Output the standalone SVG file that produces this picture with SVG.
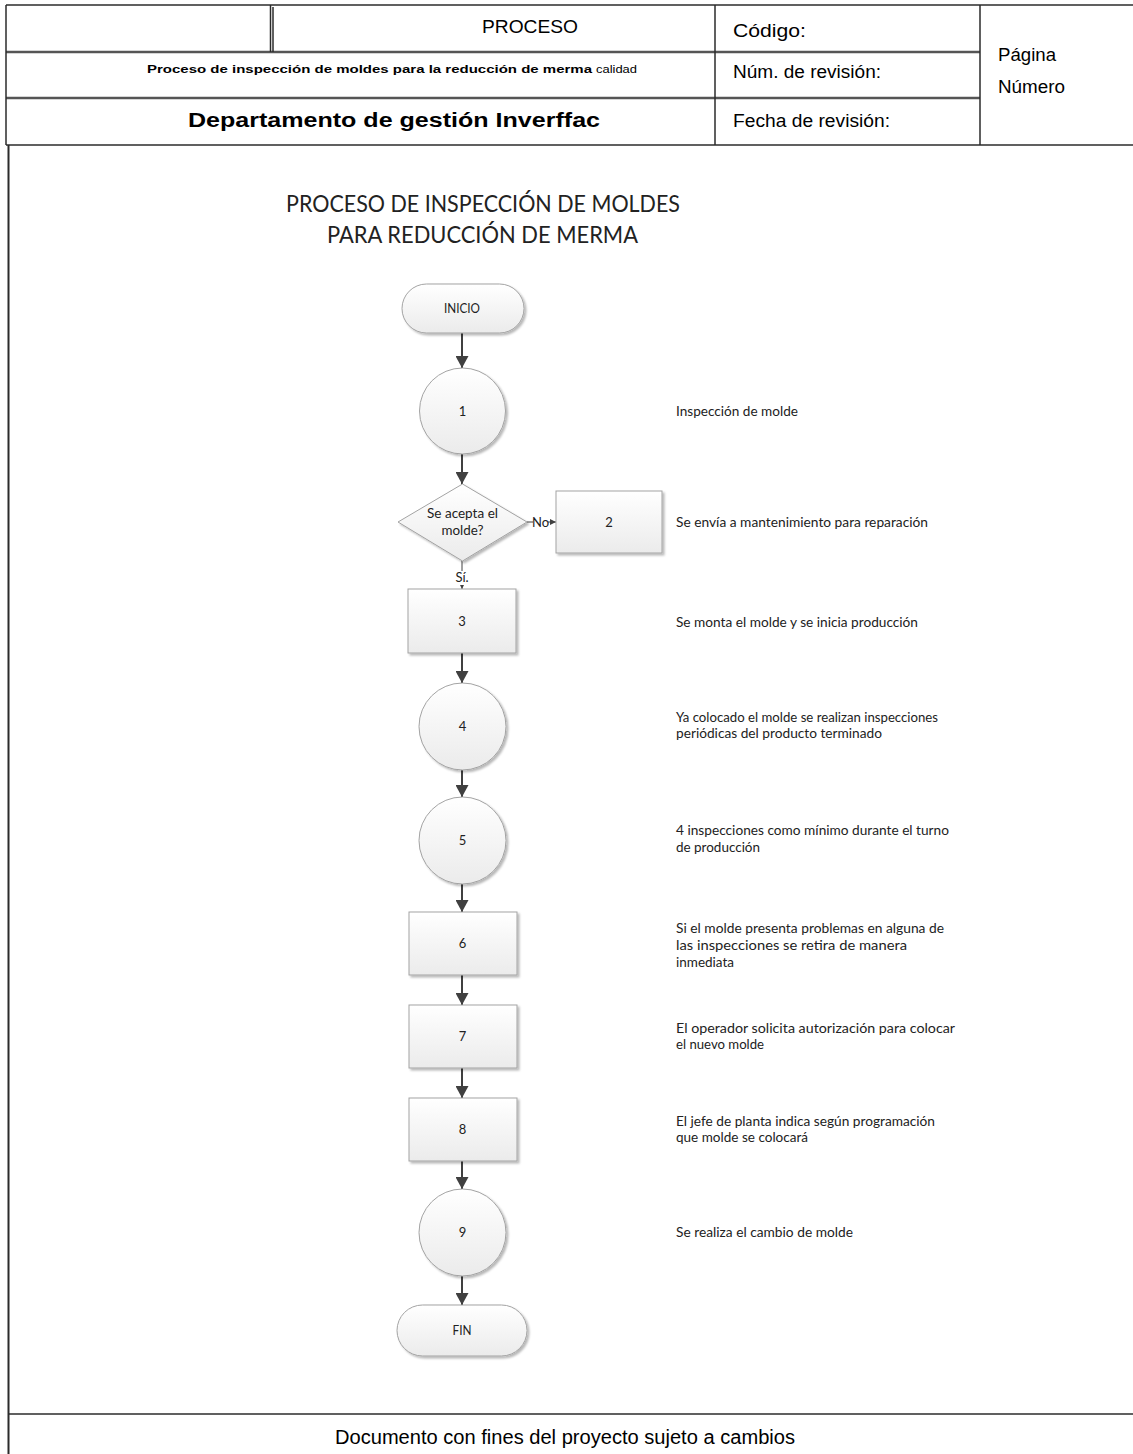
<svg xmlns="http://www.w3.org/2000/svg" width="1133" height="1454" viewBox="0 0 1133 1454">
  <defs>
    <linearGradient id="nodeFill" x1="0" y1="0" x2="0" y2="1">
      <stop offset="0" stop-color="#ffffff"/>
      <stop offset="1" stop-color="#ebebeb"/>
    </linearGradient>
    <filter id="shadow" x="-20%" y="-20%" width="140%" height="140%">
      <feDropShadow dx="2" dy="2" stdDeviation="1.2" flood-color="#000" flood-opacity="0.28"/>
    </filter>
    <marker id="arrow" markerUnits="userSpaceOnUse" markerWidth="13" markerHeight="13" refX="12" refY="6.5" orient="auto">
      <path d="M0,0 L12,6.5 L0,13 z" fill="#404040"/>
    </marker>
    <marker id="arrowSmall" markerUnits="userSpaceOnUse" markerWidth="6" markerHeight="6" refX="6" refY="3" orient="auto">
      <path d="M0,0 L6,3 L0,6 z" fill="#404040"/>
    </marker>
    <style>
      .grid { stroke: #2b2b2b; stroke-width: 1.5; fill: none; }
      .gridDbl { stroke: #555; stroke-width: 2.5; fill: none; }
      .hdr { font-family: "Liberation Sans", Arial, sans-serif; fill: #000; }
      .node { fill: url(#nodeFill); stroke: #a3a3a3; stroke-width: 1; filter: url(#shadow); }
      .lbl { font-family: Lato, "Open Sans", sans-serif; font-size: 13px; fill: #222; text-anchor: middle; }
      .desc { font-family: Lato, "Open Sans", sans-serif; font-size: 13px; fill: #222; }
      .title { font-family: Lato, "Open Sans", sans-serif; font-size: 24px; fill: #222; }
      .conn { stroke: #404040; stroke-width: 2; fill: none; }
      .connThin { stroke: #404040; stroke-width: 1; fill: none; }
    </style>
  </defs>

  <rect width="1133" height="1454" fill="#ffffff"/>

  <!-- header table -->
  <g id="header">
    <line class="grid" x1="6" y1="5" x2="1133" y2="5"/>
    <line class="gridDbl" x1="6" y1="52" x2="980" y2="52"/>
    <line class="gridDbl" x1="6" y1="98" x2="980" y2="98"/>
    <line class="grid" x1="6" y1="145" x2="1133" y2="145"/>
    <line class="grid" x1="6" y1="5" x2="6" y2="145"/>
    <line class="grid" x1="270.5" y1="5" x2="270.5" y2="52"/>
    <line class="grid" x1="273" y1="7" x2="273" y2="52"/>
    <line class="grid" x1="715" y1="5" x2="715" y2="145"/>
    <line class="grid" x1="980" y1="5" x2="980" y2="145"/>

    <text class="hdr" x="482" y="33.3" font-size="18" textLength="96" lengthAdjust="spacingAndGlyphs">PROCESO</text>
    <text class="hdr" x="147" y="73.3" font-size="11.5" font-weight="bold" textLength="445" lengthAdjust="spacingAndGlyphs">Proceso de inspección de moldes para la reducción de merma</text>
    <text class="hdr" x="596" y="73.3" font-size="11.5" textLength="41" lengthAdjust="spacingAndGlyphs">calidad</text>
    <text class="hdr" x="188" y="126.5" font-size="20" font-weight="bold" textLength="412" lengthAdjust="spacingAndGlyphs">Departamento de gestión Inverffac</text>

    <text class="hdr" x="733" y="37.3" font-size="17.5" textLength="73" lengthAdjust="spacingAndGlyphs">Código:</text>
    <text class="hdr" x="733" y="78.3" font-size="17.5" textLength="148" lengthAdjust="spacingAndGlyphs">Núm. de revisión:</text>
    <text class="hdr" x="733" y="127.3" font-size="17.5" textLength="157" lengthAdjust="spacingAndGlyphs">Fecha de revisión:</text>
    <text class="hdr" x="998" y="60.7" font-size="17.5" textLength="58" lengthAdjust="spacingAndGlyphs">Página</text>
    <text class="hdr" x="998" y="93.3" font-size="17.5" textLength="67" lengthAdjust="spacingAndGlyphs">Número</text>
  </g>

  <!-- page frame and footer -->
  <g id="frame">
    <line x1="8.5" y1="145" x2="8.5" y2="1454" stroke="#2b2b2b" stroke-width="2"/>
    <line x1="8" y1="1414" x2="1133" y2="1414" stroke="#2b2b2b" stroke-width="1.5"/>
    <text class="hdr" x="335" y="1444" font-size="19.5" textLength="460" lengthAdjust="spacingAndGlyphs">Documento con fines del proyecto sujeto a cambios</text>
  </g>

  <!-- chart title -->
  <g id="title">
    <text class="title" x="286" y="212" textLength="394" lengthAdjust="spacingAndGlyphs">PROCESO DE INSPECCIÓN DE MOLDES</text>
    <text class="title" x="327" y="243" textLength="311" lengthAdjust="spacingAndGlyphs">PARA REDUCCIÓN DE MERMA</text>
  </g>

  <!-- connectors -->
  <g id="connectors">
    <line class="conn" x1="462" y1="333" x2="462" y2="368" marker-end="url(#arrow)"/>
    <line class="conn" x1="462" y1="454" x2="462" y2="484" marker-end="url(#arrow)"/>
    <line class="connThin" x1="527" y1="522" x2="556" y2="522" marker-end="url(#arrowSmall)"/>
    <line class="connThin" x1="462" y1="561" x2="462" y2="589" marker-end="url(#arrowSmall)"/>
    <line class="conn" x1="462" y1="653" x2="462" y2="683" marker-end="url(#arrow)"/>
    <line class="conn" x1="462" y1="770" x2="462" y2="797" marker-end="url(#arrow)"/>
    <line class="conn" x1="462" y1="884" x2="462" y2="912" marker-end="url(#arrow)"/>
    <line class="conn" x1="462" y1="975" x2="462" y2="1005" marker-end="url(#arrow)"/>
    <line class="conn" x1="462" y1="1068" x2="462" y2="1098" marker-end="url(#arrow)"/>
    <line class="conn" x1="462" y1="1161" x2="462" y2="1189" marker-end="url(#arrow)"/>
    <line class="conn" x1="462" y1="1276" x2="462" y2="1305" marker-end="url(#arrow)"/>
    <!-- branch labels -->
    <rect x="533" y="515" width="15" height="14" fill="#ffffff"/>
    <text class="lbl" x="540.5" y="526.5" font-size="12">No</text>
    <rect x="453" y="571" width="18" height="14" fill="#ffffff"/>
    <text class="lbl" x="462" y="582" font-size="12">Sí.</text>
  </g>

  <!-- nodes -->
  <g id="inicio">
    <rect class="node" x="402" y="284" width="122" height="49" rx="24.5"/>
    <text class="lbl" x="462" y="312.5" textLength="36" lengthAdjust="spacingAndGlyphs">INICIO</text>
  </g>
  <g id="paso1">
    <circle class="node" cx="462.5" cy="411" r="43"/>
    <text class="lbl" x="462.5" y="415.5">1</text>
  </g>
  <g id="decision">
    <polygon class="node" points="462.5,484 527,522 462.5,561 398,522"/>
    <text class="lbl" x="462.5" y="518" textLength="71" lengthAdjust="spacingAndGlyphs">Se acepta el</text>
    <text class="lbl" x="462.5" y="535" textLength="42" lengthAdjust="spacingAndGlyphs">molde?</text>
  </g>
  <g id="paso2">
    <rect class="node" x="556" y="491" width="106" height="62"/>
    <text class="lbl" x="609" y="526.5">2</text>
  </g>
  <g id="paso3">
    <rect class="node" x="408" y="589" width="108" height="64"/>
    <text class="lbl" x="462" y="625.5">3</text>
  </g>
  <g id="paso4">
    <circle class="node" cx="462.5" cy="726.5" r="43.5"/>
    <text class="lbl" x="462.5" y="731">4</text>
  </g>
  <g id="paso5">
    <circle class="node" cx="462.5" cy="840.5" r="43.5"/>
    <text class="lbl" x="462.5" y="845">5</text>
  </g>
  <g id="paso6">
    <rect class="node" x="409" y="912" width="108" height="63"/>
    <text class="lbl" x="462.5" y="948">6</text>
  </g>
  <g id="paso7">
    <rect class="node" x="409" y="1005" width="108" height="63"/>
    <text class="lbl" x="462.5" y="1041">7</text>
  </g>
  <g id="paso8">
    <rect class="node" x="409" y="1098" width="108" height="63"/>
    <text class="lbl" x="462.5" y="1134">8</text>
  </g>
  <g id="paso9">
    <circle class="node" cx="462.5" cy="1232.5" r="43.5"/>
    <text class="lbl" x="462.5" y="1237">9</text>
  </g>
  <g id="fin">
    <rect class="node" x="397" y="1305" width="130" height="51" rx="25.5"/>
    <text class="lbl" x="462" y="1334.5" textLength="19" lengthAdjust="spacingAndGlyphs">FIN</text>
  </g>

  <!-- step descriptions -->
  <g id="descripciones">
    <text class="desc" x="676" y="416" textLength="122" lengthAdjust="spacingAndGlyphs">Inspección de molde</text>
    <text class="desc" x="676" y="527" textLength="252" lengthAdjust="spacingAndGlyphs">Se envía a mantenimiento para reparación</text>
    <text class="desc" x="676" y="626.5" textLength="242" lengthAdjust="spacingAndGlyphs">Se monta el molde y se inicia producción</text>
    <text class="desc" x="676" y="721.7" textLength="262" lengthAdjust="spacingAndGlyphs">Ya colocado el molde se realizan inspecciones</text>
    <text class="desc" x="676" y="738.3" textLength="206" lengthAdjust="spacingAndGlyphs">periódicas del producto terminado</text>
    <text class="desc" x="676" y="835" textLength="273" lengthAdjust="spacingAndGlyphs">4 inspecciones como mínimo durante el turno</text>
    <text class="desc" x="676" y="851.7" textLength="84" lengthAdjust="spacingAndGlyphs">de producción</text>
    <text class="desc" x="676" y="933.3" textLength="268" lengthAdjust="spacingAndGlyphs">Si el molde presenta problemas en alguna de</text>
    <text class="desc" x="676" y="950" textLength="231" lengthAdjust="spacingAndGlyphs">las inspecciones se retira de manera</text>
    <text class="desc" x="676" y="966.7" textLength="58" lengthAdjust="spacingAndGlyphs">inmediata</text>
    <text class="desc" x="676" y="1032.5" textLength="279" lengthAdjust="spacingAndGlyphs">El operador solicita autorización para colocar</text>
    <text class="desc" x="676" y="1049.2" textLength="88" lengthAdjust="spacingAndGlyphs">el nuevo molde</text>
    <text class="desc" x="676" y="1125.5" textLength="259" lengthAdjust="spacingAndGlyphs">El jefe de planta indica según programación</text>
    <text class="desc" x="676" y="1142.2" textLength="132" lengthAdjust="spacingAndGlyphs">que molde se colocará</text>
    <text class="desc" x="676" y="1236.5" textLength="177" lengthAdjust="spacingAndGlyphs">Se realiza el cambio de molde</text>
  </g>
</svg>
